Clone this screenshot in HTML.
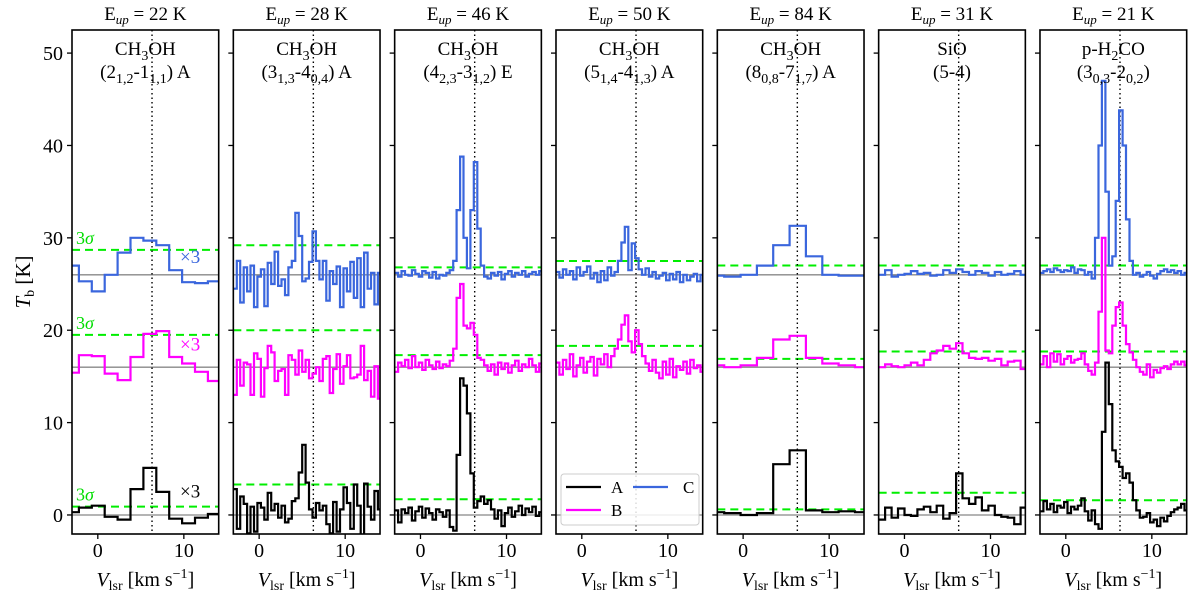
<!DOCTYPE html>
<html><head><meta charset="utf-8"><style>
html,body{margin:0;padding:0;background:#fff;}
svg{display:block;font-family:"Liberation Serif","DejaVu Serif",serif;}
</style></head><body>
<svg id="chart" width="1200" height="600" viewBox="0 0 1200 600" xmlns="http://www.w3.org/2000/svg"></svg>
<script>
// ---- data ----
const titles = ["22","28","46","50","84","31","21"];
function sb(s){return "<tspan dy='5' font-size='14'>"+s+"</tspan><tspan dy='-5'>";}
const molecules = ["CH"+sb("3")+"OH</tspan>","CH"+sb("3")+"OH</tspan>","CH"+sb("3")+"OH</tspan>","CH"+sb("3")+"OH</tspan>","CH"+sb("3")+"OH</tspan>","SiO","p-H"+sb("2")+"CO</tspan>"];
const transitions = [
 "(2"+sb("1,2")+"-1</tspan>"+sb("1,1")+") A</tspan>",
 "(3"+sb("1,3")+"-4</tspan>"+sb("0,4")+") A</tspan>",
 "(4"+sb("2,3")+"-3</tspan>"+sb("1,2")+") E</tspan>",
 "(5"+sb("1,4")+"-4</tspan>"+sb("1,3")+") A</tspan>",
 "(8"+sb("0,8")+"-7</tspan>"+sb("1,7")+") A</tspan>",
 "(5-4)",
 "(3"+sb("0,3")+"-2</tspan>"+sb("0,2")+")</tspan>"];
const channelStart = [-3.7,-3,-3,-3,-4.1,-3,-3];
const channelWidth = [1.5,0.4,0.4,0.4,1.9,0.75,0.4];
const seriesA = [
 [0.3,0.8,1.0,-0.2,-0.5,2.8,5.1,2.5,-0.4,-0.9,-0.3,0.1],
 [2.8,-1.5,2.0,1.2,-2.0,0.9,-1.8,1.3,0.8,-0.5,2.4,0.5,1.2,-0.3,1.0,-0.8,-0.4,1.5,1.8,4.6,7.6,3.5,0.6,-0.3,1.3,0.5,1.0,-1.0,-2.0,1.4,-1.8,0.6,3.0,1.3,-1.5,3.3,1.0,-2.2,3.4,0.9,-0.5,2.6,0.6],
 [0.5,-0.8,0.6,0.2,0.8,-0.6,0.4,0.9,-0.3,0.7,0.2,-0.5,0.6,0.3,-0.2,0.5,-1.3,-1.7,6.5,14.8,14.0,11.0,4.5,0.8,1.5,2.0,1.2,1.6,0.6,-0.4,0.5,-1.2,0.2,0.8,-0.2,0.4,1.0,0.0,0.7,0.3,0.9,-0.1,0.3],
 null,
 [0.3,0.2,0.0,0.2,5.5,7.0,0.5,0.3,0.4,0.3],
 [-0.5,0.8,-0.3,0.7,0.0,-0.1,0.6,0.9,0.3,1.0,-0.4,0.2,4.5,1.8,1.2,1.9,0.5,1.0,0.0,-0.2,-0.3,-1.0,0.8],
 [0.4,1.5,0.6,1.2,0.3,1.0,0.8,1.4,0.2,0.9,0.6,1.0,1.8,0.4,-0.6,0.5,-1.0,-1.5,9.0,16.5,12.0,7.0,5.8,5.2,4.0,4.5,3.5,1.6,0.5,-0.3,-0.2,0.2,-0.8,-0.5,-1.2,-0.3,-0.7,-0.1,0.3,0.6,0.8,1.2,0.5]
];
const seriesB = [
 [15.4,17.3,17.2,15.3,14.6,17.1,19.6,19.9,17.1,16.4,15.5,14.5],
 [13,16.8,14,16.5,16.3,13,17.5,16.9,12.8,15.9,18.3,17.6,14.5,15.6,15.8,13,17.3,16.8,15.2,17.8,15.5,16.8,14.8,15.3,16,14.5,16.9,17.2,13.2,15.8,17.4,14.2,16.1,17.3,14.8,14.9,15.2,18.3,14.6,15.6,12.8,16.1,12.6],
 [15.5,16.5,16.1,16.8,15.9,17.2,16.0,16.5,15.7,16.8,16.2,15.8,16.6,15.9,16.3,16.1,16.7,18.0,23.5,25.0,20.5,20.2,20.8,19.5,17.0,16.8,16.2,15.6,16.3,15.2,16.5,15.8,16.4,15.4,16.2,16.7,15.6,16.3,16.0,16.9,16.2,15.5,16.4],
 [16.5,15.2,16.8,15.8,17.4,15.0,16.2,17.0,15.4,16.6,17.1,15.1,16.9,16.3,17.4,16.0,17.2,18.0,19.0,20.6,21.6,18.8,17.6,20.0,18.5,17.2,16.4,15.6,16.8,15.4,14.8,16.6,15.2,16.9,14.9,16.1,15.7,16.6,15.3,16.8,15.9,16.2,15.5],
 [16.2,16.0,16.2,17.0,19.0,19.4,17.0,16.4,16.2,16.0],
 [16.0,16.3,16.1,16.0,16.2,16.5,16.2,16.8,17.5,17.8,18.3,18.0,18.6,17.5,17.0,16.9,17.0,16.7,16.9,16.2,16.6,16.7,15.8],
 [16.3,17.2,16.0,17.5,16.6,17.4,16.3,16.9,17.2,16.5,16.8,16.9,17.5,16.3,15.6,15.2,16.5,22.0,30.0,17.8,17.5,20.5,22.5,23.0,20.5,18.5,17.6,16.8,16.0,15.5,15.2,16.3,14.9,15.7,15.4,15.9,16.1,15.8,16.3,16.6,16.3,16.6,16.2]
];
const seriesC = [
 [27.0,25.3,24.2,26.0,28.4,30.0,29.7,29.2,26.5,25.2,25.1,25.3],
 [24.5,27.5,23.0,26.8,24.2,27.0,22.5,25.8,26.6,22.6,27.3,25.0,28.5,24.8,25.5,23.8,26.8,27.5,32.7,30.2,25.3,25.6,27.4,30.7,27.5,25.5,27.5,23.2,26.4,25.0,26.9,22.5,26.7,24.2,27.4,23.5,27.8,22.5,28.4,24.5,26.2,22.8,26.2],
 [26.2,25.8,26.4,26.0,25.9,26.5,26.1,25.8,26.4,26.2,25.7,26.3,25.6,26.0,25.9,26.2,26.5,27.5,33.0,38.8,30.0,26.7,33.0,38.2,31.0,27.0,25.8,25.6,26.2,25.9,26.3,25.5,26.1,26.4,25.8,26.2,26.0,26.4,25.8,26.1,26.3,26.0,26.4],
 [26.3,25.7,26.6,26.0,26.4,25.5,26.8,25.9,26.3,26.9,25.6,26.2,25.2,26.4,25.4,26.8,25.9,26.3,27.5,29.5,31.2,26.5,29.4,27.8,26.6,26.0,26.7,25.8,26.3,25.6,25.9,26.2,25.4,26.1,25.5,26.3,25.2,26.0,25.4,25.8,26.1,25.3,26.0],
 [25.9,25.8,26.0,27.0,29.2,31.3,28.0,26.0,25.9,25.9],
 [26.0,26.5,25.8,26.0,26.1,26.4,26.1,26.2,25.9,26.0,26.5,26.2,26.6,26.3,26.0,26.4,26.2,25.9,26.3,26.0,26.1,26.4,26.0],
 [26.2,26.4,26.6,26.3,26.7,26.5,26.3,26.5,26.4,26.8,26.2,26.6,26.5,26.0,26.3,25.6,30.0,40.0,47.0,35.0,27.0,28.0,34.0,43.8,40.0,32.0,27.5,26.0,26.2,25.8,26.0,26.3,25.9,25.6,26.1,26.4,26.6,26.3,26.5,26.2,26.4,26.0,26.2]
];
const sigmaA = [0.9,3.3,1.7,null,0.6,2.4,1.6];
const sigmaB = [19.5,20.0,17.3,18.3,16.9,17.7,17.7];
const sigmaC = [28.7,29.2,26.8,27.5,27.0,27.0,27.0];
const baselines = [0,16,26];
const yTicks = [0,10,20,30,40,50];
const xTicks = [0,10];
const vSystemic = 6.3;

// ---- layout ----
const NS="http://www.w3.org/2000/svg";
const svg=document.getElementById('chart');
const panelLeft0=72, panelPitch=161.33, panelW=146.7, plotTop=30, plotBottom=534;
const xMin=-3, xMax=14.05, yMin=-2.06, yMax=52.5;
function xs(p,v){return panelLeft0+p*panelPitch+(v-xMin)/(xMax-xMin)*panelW;}
function ys(v){return plotBottom-(v-yMin)/(yMax-yMin)*(plotBottom-plotTop);}
function el(tag,attrs,parent){const e=document.createElementNS(NS,tag);for(const k in attrs)e.setAttribute(k,attrs[k]);(parent||svg).appendChild(e);return e;}

const defs=el('defs',{});
for(let p=0;p<7;p++){
  const cp=el('clipPath',{id:'clip'+p},defs);
  el('rect',{x:xs(p,xMin),y:plotTop,width:panelW,height:plotBottom-plotTop},cp);
}

function stepPath(p,arr){
  const v0=channelStart[p], dv=channelWidth[p];
  let d='';
  arr.forEach((val,i)=>{
    const xa=xs(p,v0+i*dv), xb=xs(p,v0+(i+1)*dv), y=ys(val);
    d+=(i===0?'M':'L')+xa.toFixed(1)+','+y.toFixed(1)+'L'+xb.toFixed(1)+','+y.toFixed(1);
  });
  return d;
}

for(let p=0;p<7;p++){
  const g=el('g',{});
  
  
  const L=xs(p,xMin), R=xs(p,xMax), cx=(L+R)/2;
  const t=el('text',{x:cx,y:20,'text-anchor':'middle','font-size':'19'},g);
  
  
  t.innerHTML="E<tspan dy='4' font-size='13' font-style='italic'>up</tspan><tspan dy='-4'> = "+titles[p]+" K</tspan>";
  const plot=el('g',{'clip-path':'url(#clip'+p+')'},g);
  baselines.forEach(b=>{
    const l=el('line',{x1:L,x2:R,y1:ys(b),y2:ys(b),stroke:'#888','stroke-width':1.3},plot);
    
    
  });
  [[sigmaA,'A'],[sigmaB,'B'],[sigmaC,'C']].forEach(([arr,n])=>{
    if(arr[p]==null)return;
    const l=el('line',{x1:L,x2:R,y1:ys(arr[p]),y2:ys(arr[p]),stroke:'#00ee00','stroke-width':2,'stroke-dasharray':'8,5'},plot);
    
    
  });
  const vl=el('line',{x1:xs(p,vSystemic),x2:xs(p,vSystemic),y1:plotTop,y2:plotBottom,stroke:'#000','stroke-width':1.4,'stroke-dasharray':'1.5,3'},plot);
  
  
  [[seriesA,'#000','A'],[seriesB,'#ff00ff','B'],[seriesC,'#3a66dd','C']].forEach(([arr,col,n])=>{
    if(!arr[p])return;
    const path=el('path',{d:stepPath(p,arr[p]),fill:'none',stroke:col,'stroke-width':2.2,'stroke-linejoin':'miter'},plot);
    
    
  });
  const fr=el('rect',{x:L,y:plotTop,width:panelW,height:plotBottom-plotTop,fill:'none',stroke:'#000','stroke-width':1.6},g);
  
  
  const m=el('text',{x:cx,y:55,'text-anchor':'middle','font-size':'19'},g);
  
  
  m.innerHTML=molecules[p];
  const tr=el('text',{x:cx,y:78,'text-anchor':'middle','font-size':'19'},g);
  
  
  tr.innerHTML=transitions[p];
  yTicks.forEach(v=>{
    el('line',{x1:L-5,x2:L,y1:ys(v),y2:ys(v),stroke:'#000','stroke-width':1.3},g);
    if(p===0){
      const tl=el('text',{x:L-9,y:ys(v)+7,'text-anchor':'end','font-size':'20'},g);
      
      
      tl.textContent=v;
    }
  });
  xTicks.forEach(v=>{
    el('line',{x1:xs(p,v),x2:xs(p,v),y1:plotBottom,y2:plotBottom+5,stroke:'#000','stroke-width':1.3},g);
    const tl=el('text',{x:xs(p,v),y:557,'text-anchor':'middle','font-size':'20'},g);
    
    
    tl.textContent=v;
  });
  const xl=el('text',{x:cx,y:586,'text-anchor':'middle','font-size':'20'},g);
  
  
  xl.innerHTML="<tspan font-style='italic'>V</tspan><tspan dy='4' font-size='14'>lsr</tspan><tspan dy='-4'> [km s</tspan><tspan dy='-8' font-size='14'>−1</tspan><tspan dy='8'>]</tspan>";
}

[sigmaC[0],sigmaB[0],sigmaA[0]].forEach(v=>{
  const t=el('text',{x:76,y:ys(v)-6,fill:'#00dd00','font-size':'18'});
  
  
  t.innerHTML="3<tspan font-style='italic'>σ</tspan>";
});
[[27.3,'#3a66dd'],[17.8,'#ff00ff'],[1.9,'#000']].forEach(([v,c])=>{
  const t=el('text',{x:180,y:ys(v),fill:c,'font-size':'19'});
  
  
  t.textContent="×3";
});

const yt=el('text',{x:0,y:0,'text-anchor':'middle','font-size':'21',transform:'translate(30,282) rotate(-90)'});


yt.innerHTML="<tspan font-style='italic'>T</tspan><tspan dy='4' font-size='14'>b</tspan><tspan dy='-4'> [K]</tspan>";

const lg=el('g',{});


el('rect',{x:561,y:474,width:138,height:51,rx:3,fill:'#fff','fill-opacity':0.85,stroke:'#ccc','stroke-width':1},lg);
[[566,487,'#000','A'],[566,510,'#ff00ff','B'],[633,487,'#3a66dd','C']].forEach(([x,y,c,n])=>{
  const ln=el('line',{x1:x,x2:x+35,y1:y,y2:y,stroke:c,'stroke-width':2.2},lg);
  
  
  const t=el('text',{x:x+(n==='C'?50:45),y:y+6,'font-size':'17'},lg);
  
  
  t.textContent=n;
});
</script>
</body></html>
